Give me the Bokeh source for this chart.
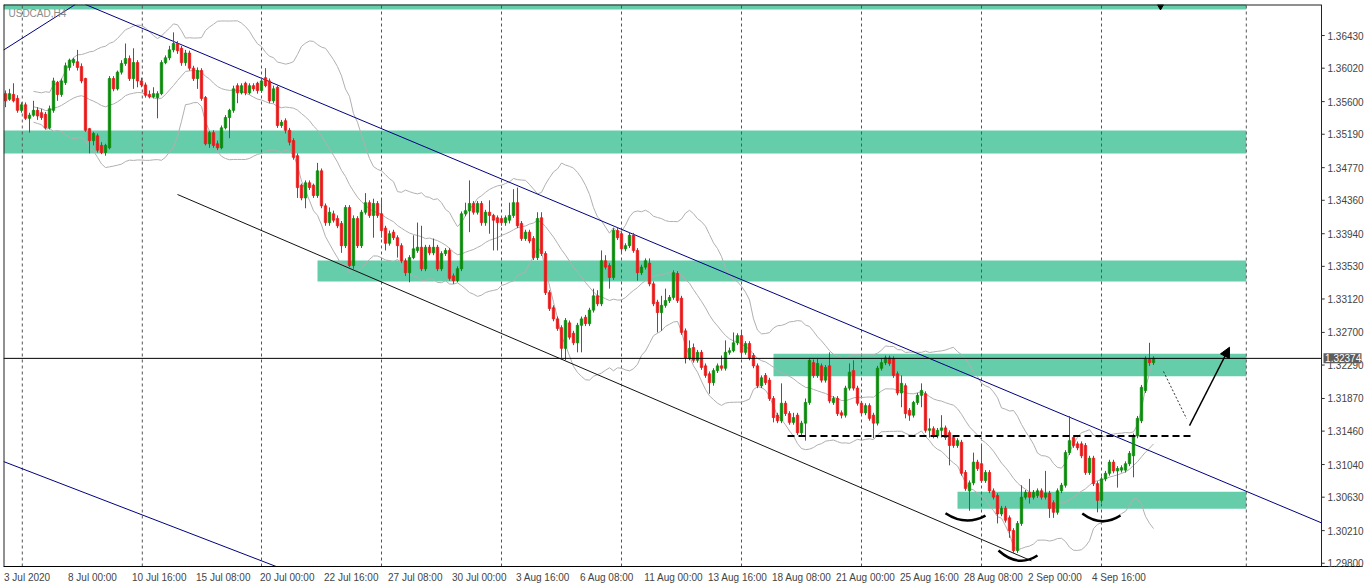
import numpy as np
import pandas as pd
from bokeh.plotting import figure
from bokeh.models import FixedTicker, PrintfTickFormatter, Label, Arrow, NormalHead
from bokeh.embed import file_html
from bokeh.resources import INLINE
from bokeh.core.properties import value

# ---------------- data (USDCAD H4) ----------------
opens = [
    1.3570, 1.3563, 1.3569, 1.3564, 1.3549, 1.3556, 1.3539, 1.3543, 1.3549, 1.3546,
    1.3544, 1.3527, 1.3549, 1.3584, 1.3569, 1.3584, 1.3603, 1.3609, 1.3610, 1.3604,
    1.3589, 1.3526, 1.3511, 1.3517, 1.3505, 1.3496, 1.3502, 1.3589, 1.3576, 1.3597,
    1.3608, 1.3614, 1.3589, 1.3609, 1.3586, 1.3581, 1.3569, 1.3566, 1.3565, 1.3570,
    1.3609, 1.3615, 1.3625, 1.3633, 1.3627, 1.3609, 1.3621, 1.3602, 1.3589, 1.3599,
    1.3565, 1.3507, 1.3521, 1.3507, 1.3502, 1.3527, 1.3540, 1.3549, 1.3580, 1.3571,
    1.3583, 1.3571, 1.3580, 1.3583, 1.3574, 1.3590, 1.3586, 1.3561, 1.3578, 1.3530,
    1.3536, 1.3524, 1.3511, 1.3492, 1.3455, 1.3439, 1.3458, 1.3455, 1.3442, 1.3473,
    1.3429, 1.3408, 1.3419, 1.3413, 1.3407, 1.3379, 1.3427, 1.3354, 1.3413, 1.3379,
    1.3421, 1.3433, 1.3417, 1.3432, 1.3419, 1.3401, 1.3382, 1.3396, 1.3389, 1.3379,
    1.3360, 1.3345, 1.3364, 1.3373, 1.3377, 1.3350, 1.3377, 1.3370, 1.3377, 1.3350,
    1.3369, 1.3373, 1.3341, 1.3335, 1.3350, 1.3419, 1.3423, 1.3432, 1.3421, 1.3432,
    1.3408, 1.3421, 1.3417, 1.3414, 1.3413, 1.3408, 1.3411, 1.3417, 1.3433, 1.3407,
    1.3388, 1.3396, 1.3388, 1.3364, 1.3414, 1.3369, 1.3320, 1.3301, 1.3287, 1.3276,
    1.3250, 1.3282, 1.3269, 1.3257, 1.3279, 1.3289, 1.3281, 1.3298, 1.3316, 1.3306,
    1.3360, 1.3354, 1.3339, 1.3398, 1.3394, 1.3375, 1.3379, 1.3392, 1.3373, 1.3345,
    1.3352, 1.3357, 1.3331, 1.3308, 1.3295, 1.3304, 1.3310, 1.3314, 1.3344, 1.3313,
    1.3272, 1.3238, 1.3251, 1.3235, 1.3245, 1.3228, 1.3218, 1.3207, 1.3222, 1.3228,
    1.3225, 1.3245, 1.3247, 1.3257, 1.3266, 1.3245, 1.3256, 1.3241, 1.3228, 1.3203,
    1.3216, 1.3210, 1.3187, 1.3166, 1.3159, 1.3181, 1.3168, 1.3157, 1.3166, 1.3144,
    1.3156, 1.3182, 1.3232, 1.3216, 1.3228, 1.3210, 1.3228, 1.3182, 1.3187, 1.3169,
    1.3166, 1.3200, 1.3222, 1.3200, 1.3181, 1.3169, 1.3178, 1.3166, 1.3156, 1.3225,
    1.3232, 1.3238, 1.3237, 1.3218, 1.3194, 1.3203, 1.3172, 1.3166, 1.3182, 1.3191,
    1.3193, 1.3147, 1.3149, 1.3140, 1.3147, 1.3150, 1.3144, 1.3138, 1.3128, 1.3132,
    1.3094, 1.3071, 1.3081, 1.3107, 1.3105, 1.3084, 1.3094, 1.3071, 1.3065, 1.3042,
    1.3049, 1.3037, 1.3021, 1.2996, 1.3030, 1.3063, 1.3069, 1.3063, 1.3065, 1.3071,
    1.3063, 1.3068, 1.3056, 1.3044, 1.3071, 1.3078, 1.3119, 1.3138, 1.3130, 1.3130,
    1.3128, 1.3094, 1.3112, 1.3080, 1.3059, 1.3086, 1.3093, 1.3107, 1.3096, 1.3097,
    1.3097, 1.3105, 1.3115, 1.3140, 1.3159, 1.3197, 1.3236, 1.3232,
]
highs = [
    1.3574, 1.3576, 1.3583, 1.3568, 1.3559, 1.3559, 1.3546, 1.3561, 1.3553, 1.3551,
    1.3547, 1.3555, 1.3590, 1.3586, 1.3589, 1.3609, 1.3614, 1.3615, 1.3625, 1.3608,
    1.3590, 1.3527, 1.3522, 1.3520, 1.3509, 1.3507, 1.3592, 1.3592, 1.3599, 1.3612,
    1.3633, 1.3618, 1.3627, 1.3612, 1.3590, 1.3584, 1.3574, 1.3578, 1.3573, 1.3612,
    1.3618, 1.3630, 1.3647, 1.3636, 1.3630, 1.3625, 1.3624, 1.3605, 1.3603, 1.3602,
    1.3567, 1.3523, 1.3524, 1.3511, 1.3530, 1.3543, 1.3551, 1.3580, 1.3583, 1.3583,
    1.3585, 1.3583, 1.3583, 1.3585, 1.3590, 1.3602, 1.3589, 1.3580, 1.3580, 1.3537,
    1.3539, 1.3527, 1.3514, 1.3495, 1.3457, 1.3461, 1.3461, 1.3457, 1.3483, 1.3476,
    1.3432, 1.3427, 1.3423, 1.3417, 1.3410, 1.3430, 1.3430, 1.3417, 1.3416, 1.3424,
    1.3445, 1.3436, 1.3438, 1.3435, 1.3438, 1.3404, 1.3398, 1.3399, 1.3392, 1.3382,
    1.3363, 1.3367, 1.3392, 1.3408, 1.3404, 1.3380, 1.3380, 1.3388, 1.3380, 1.3372,
    1.3376, 1.3376, 1.3344, 1.3353, 1.3422, 1.3433, 1.3461, 1.3435, 1.3435, 1.3435,
    1.3424, 1.3436, 1.3419, 1.3417, 1.3416, 1.3417, 1.3433, 1.3450, 1.3452, 1.3410,
    1.3399, 1.3399, 1.3391, 1.3421, 1.3421, 1.3372, 1.3323, 1.3304, 1.3290, 1.3279,
    1.3288, 1.3285, 1.3272, 1.3282, 1.3290, 1.3292, 1.3301, 1.3325, 1.3323, 1.3373,
    1.3367, 1.3357, 1.3401, 1.3402, 1.3397, 1.3382, 1.3396, 1.3395, 1.3376, 1.3355,
    1.3363, 1.3363, 1.3334, 1.3311, 1.3316, 1.3325, 1.3317, 1.3348, 1.3347, 1.3316,
    1.3275, 1.3260, 1.3256, 1.3248, 1.3248, 1.3231, 1.3221, 1.3225, 1.3231, 1.3241,
    1.3260, 1.3251, 1.3270, 1.3269, 1.3272, 1.3259, 1.3259, 1.3244, 1.3231, 1.3216,
    1.3219, 1.3213, 1.3190, 1.3169, 1.3206, 1.3184, 1.3171, 1.3169, 1.3169, 1.3159,
    1.3187, 1.3238, 1.3236, 1.3237, 1.3231, 1.3229, 1.3245, 1.3190, 1.3190, 1.3172,
    1.3203, 1.3231, 1.3235, 1.3203, 1.3184, 1.3181, 1.3181, 1.3169, 1.3228, 1.3238,
    1.3241, 1.3241, 1.3240, 1.3221, 1.3216, 1.3206, 1.3175, 1.3184, 1.3194, 1.3206,
    1.3196, 1.3162, 1.3152, 1.3150, 1.3166, 1.3153, 1.3147, 1.3141, 1.3137, 1.3135,
    1.3097, 1.3084, 1.3119, 1.3110, 1.3128, 1.3097, 1.3097, 1.3074, 1.3068, 1.3052,
    1.3052, 1.3040, 1.3024, 1.3033, 1.3078, 1.3072, 1.3086, 1.3072, 1.3074, 1.3074,
    1.3096, 1.3071, 1.3059, 1.3074, 1.3081, 1.3122, 1.3165, 1.3141, 1.3133, 1.3133,
    1.3131, 1.3115, 1.3115, 1.3083, 1.3089, 1.3096, 1.3110, 1.3110, 1.3102, 1.3103,
    1.3108, 1.3121, 1.3143, 1.3165, 1.3204, 1.3240, 1.3257, 1.3240,
]
lows = [
    1.3553, 1.3561, 1.3559, 1.3546, 1.3546, 1.3537, 1.3521, 1.3541, 1.3537, 1.3537,
    1.3525, 1.3525, 1.3546, 1.3561, 1.3566, 1.3581, 1.3599, 1.3605, 1.3599, 1.3583,
    1.3522, 1.3495, 1.3505, 1.3496, 1.3494, 1.3492, 1.3500, 1.3573, 1.3574, 1.3594,
    1.3605, 1.3586, 1.3576, 1.3578, 1.3578, 1.3565, 1.3564, 1.3564, 1.3539, 1.3568,
    1.3607, 1.3612, 1.3622, 1.3620, 1.3605, 1.3605, 1.3599, 1.3586, 1.3576, 1.3561,
    1.3505, 1.3502, 1.3502, 1.3499, 1.3500, 1.3525, 1.3514, 1.3546, 1.3558, 1.3569,
    1.3568, 1.3569, 1.3573, 1.3570, 1.3571, 1.3578, 1.3558, 1.3558, 1.3527, 1.3527,
    1.3520, 1.3505, 1.3487, 1.3439, 1.3436, 1.3426, 1.3449, 1.3439, 1.3439, 1.3426,
    1.3404, 1.3404, 1.3408, 1.3401, 1.3370, 1.3376, 1.3352, 1.3350, 1.3376, 1.3376,
    1.3418, 1.3414, 1.3389, 1.3414, 1.3389, 1.3373, 1.3379, 1.3386, 1.3364, 1.3357,
    1.3341, 1.3333, 1.3362, 1.3370, 1.3347, 1.3347, 1.3367, 1.3367, 1.3347, 1.3347,
    1.3366, 1.3335, 1.3331, 1.3333, 1.3347, 1.3416, 1.3396, 1.3418, 1.3418, 1.3404,
    1.3404, 1.3394, 1.3373, 1.3373, 1.3404, 1.3404, 1.3407, 1.3414, 1.3401, 1.3385,
    1.3385, 1.3382, 1.3361, 1.3361, 1.3366, 1.3317, 1.3297, 1.3284, 1.3272, 1.3238,
    1.3235, 1.3261, 1.3254, 1.3245, 1.3245, 1.3278, 1.3278, 1.3295, 1.3303, 1.3303,
    1.3349, 1.3325, 1.3336, 1.3386, 1.3369, 1.3372, 1.3376, 1.3370, 1.3335, 1.3342,
    1.3349, 1.3328, 1.3303, 1.3270, 1.3272, 1.3301, 1.3307, 1.3311, 1.3307, 1.3267,
    1.3231, 1.3235, 1.3232, 1.3232, 1.3223, 1.3213, 1.3193, 1.3203, 1.3219, 1.3222,
    1.3222, 1.3242, 1.3245, 1.3254, 1.3238, 1.3242, 1.3235, 1.3225, 1.3200, 1.3200,
    1.3204, 1.3184, 1.3157, 1.3156, 1.3156, 1.3165, 1.3154, 1.3154, 1.3141, 1.3141,
    1.3134, 1.3179, 1.3213, 1.3213, 1.3207, 1.3207, 1.3181, 1.3179, 1.3165, 1.3162,
    1.3163, 1.3197, 1.3197, 1.3178, 1.3166, 1.3166, 1.3159, 1.3137, 1.3153, 1.3222,
    1.3229, 1.3228, 1.3213, 1.3191, 1.3176, 1.3162, 1.3159, 1.3163, 1.3179, 1.3176,
    1.3144, 1.3138, 1.3137, 1.3137, 1.3138, 1.3135, 1.3103, 1.3125, 1.3125, 1.3090,
    1.3071, 1.3046, 1.3078, 1.3096, 1.3081, 1.3081, 1.3068, 1.3060, 1.3030, 1.3039,
    1.3031, 1.3012, 1.2993, 1.2993, 1.3027, 1.3060, 1.3055, 1.3060, 1.3062, 1.3060,
    1.3060, 1.3037, 1.3037, 1.3041, 1.3068, 1.3075, 1.3116, 1.3125, 1.3122, 1.3112,
    1.3091, 1.3091, 1.3077, 1.3044, 1.3056, 1.3083, 1.3090, 1.3093, 1.3075, 1.3094,
    1.3094, 1.3102, 1.3088, 1.3137, 1.3156, 1.3194, 1.3228, 1.3229,
]
closes = [
    1.3561, 1.3570, 1.3561, 1.3549, 1.3556, 1.3539, 1.3543, 1.3549, 1.3542, 1.3540,
    1.3527, 1.3551, 1.3586, 1.3569, 1.3586, 1.3605, 1.3612, 1.3613, 1.3603, 1.3586,
    1.3524, 1.3511, 1.3520, 1.3499, 1.3496, 1.3505, 1.3589, 1.3576, 1.3597, 1.3608,
    1.3614, 1.3589, 1.3609, 1.3586, 1.3581, 1.3568, 1.3566, 1.3570, 1.3570, 1.3609,
    1.3615, 1.3625, 1.3633, 1.3624, 1.3609, 1.3621, 1.3602, 1.3589, 1.3599, 1.3564,
    1.3507, 1.3521, 1.3505, 1.3502, 1.3527, 1.3540, 1.3549, 1.3576, 1.3571, 1.3580,
    1.3571, 1.3580, 1.3576, 1.3574, 1.3586, 1.3580, 1.3561, 1.3576, 1.3530, 1.3534,
    1.3524, 1.3509, 1.3490, 1.3452, 1.3439, 1.3458, 1.3452, 1.3442, 1.3473, 1.3429,
    1.3408, 1.3421, 1.3411, 1.3404, 1.3379, 1.3427, 1.3354, 1.3413, 1.3379, 1.3421,
    1.3433, 1.3417, 1.3432, 1.3417, 1.3398, 1.3382, 1.3394, 1.3389, 1.3379, 1.3360,
    1.3345, 1.3364, 1.3375, 1.3377, 1.3350, 1.3377, 1.3370, 1.3377, 1.3350, 1.3369,
    1.3373, 1.3338, 1.3335, 1.3350, 1.3419, 1.3423, 1.3432, 1.3421, 1.3432, 1.3408,
    1.3421, 1.3417, 1.3411, 1.3408, 1.3408, 1.3414, 1.3417, 1.3433, 1.3404, 1.3388,
    1.3396, 1.3385, 1.3364, 1.3413, 1.3369, 1.3320, 1.3300, 1.3287, 1.3275, 1.3250,
    1.3285, 1.3264, 1.3257, 1.3279, 1.3287, 1.3281, 1.3298, 1.3316, 1.3306, 1.3360,
    1.3352, 1.3339, 1.3398, 1.3389, 1.3375, 1.3379, 1.3392, 1.3373, 1.3345, 1.3352,
    1.3360, 1.3331, 1.3306, 1.3295, 1.3304, 1.3310, 1.3314, 1.3345, 1.3310, 1.3270,
    1.3238, 1.3250, 1.3235, 1.3245, 1.3226, 1.3216, 1.3207, 1.3222, 1.3228, 1.3225,
    1.3245, 1.3247, 1.3257, 1.3266, 1.3245, 1.3256, 1.3238, 1.3228, 1.3203, 1.3213,
    1.3207, 1.3187, 1.3163, 1.3159, 1.3181, 1.3168, 1.3157, 1.3163, 1.3144, 1.3156,
    1.3182, 1.3235, 1.3216, 1.3231, 1.3210, 1.3226, 1.3184, 1.3187, 1.3168, 1.3166,
    1.3200, 1.3220, 1.3200, 1.3181, 1.3169, 1.3178, 1.3162, 1.3156, 1.3225, 1.3232,
    1.3238, 1.3231, 1.3216, 1.3194, 1.3206, 1.3168, 1.3166, 1.3182, 1.3191, 1.3197,
    1.3147, 1.3149, 1.3140, 1.3147, 1.3150, 1.3138, 1.3128, 1.3128, 1.3134, 1.3093,
    1.3074, 1.3081, 1.3107, 1.3099, 1.3084, 1.3094, 1.3071, 1.3063, 1.3042, 1.3049,
    1.3034, 1.3021, 1.2996, 1.3030, 1.3063, 1.3069, 1.3063, 1.3069, 1.3071, 1.3063,
    1.3068, 1.3049, 1.3044, 1.3071, 1.3078, 1.3119, 1.3134, 1.3128, 1.3125, 1.3115,
    1.3094, 1.3112, 1.3080, 1.3059, 1.3086, 1.3093, 1.3107, 1.3096, 1.3099, 1.3100,
    1.3105, 1.3118, 1.3140, 1.3162, 1.3201, 1.3237, 1.3232, 1.32374,
]

# time-axis labels (every 16th H4 bar)
date_labels = ["3 Jul 2020", "8 Jul 00:00", "10 Jul 16:00", "15 Jul 08:00", "20 Jul 00:00",
               "22 Jul 16:00", "27 Jul 08:00", "30 Jul 00:00", "3 Aug 16:00", "6 Aug 08:00",
               "11 Aug 00:00", "13 Aug 16:00", "18 Aug 08:00", "21 Aug 00:00", "25 Aug 16:00",
               "28 Aug 08:00", "2 Sep 00:00", "4 Sep 16:00"]
label_step = 16

# price-axis ticks
price_ticks = [1.29800, 1.30210, 1.30630, 1.31040, 1.31460, 1.31870, 1.32290, 1.32700,
               1.33120, 1.33530, 1.33940, 1.34360, 1.34770, 1.35190, 1.35600, 1.36020, 1.36430]

# support / resistance zones (bar index from .. to, price bottom .. top)
zone_left = [-0.5, -0.5, 78.0, 192.0, 238.0]
zone_right = [310.2, 310.2, 310.2, 310.2, 310.2]
zone_bottom = [1.36757, 1.34948, 1.33340, 1.32149, 1.30484]
zone_top = [1.36950, 1.35237, 1.33603, 1.32431, 1.30697]

# weekly separators (bar positions)
week_lines = [4.2, 34.2, 64.0, 94.0, 124.0, 154.0, 184.0, 214.0, 244.0, 274.0, 310.2]

# drawn trend lines: (bar, price) end points
chan_upper_x, chan_upper_y = [20.0, 329.0], [1.36820, 1.30307]
chan_topleft_x, chan_topleft_y = [-0.5, 17.45], [1.36247, 1.36820]
chan_botleft_x, chan_botleft_y = [-0.5, 70.0], [1.31078, 1.29714]
chan_lower_x, chan_lower_y = [43.0, 256.5], [1.34433, 1.29830]
neck_x, neck_y = [195.5, 296.4], [1.3140, 1.3140]
pull_x, pull_y = [289.5, 295.25], [1.32209, 1.31618]
arrow_from, arrow_to = (296.0, 1.31530), (306.0, 1.32514)
arc_x0 = [235.0, 248.25, 269.2]
arc_x1 = [245.0, 258.0, 278.75]
arc_y0 = [1.30428, 1.29960, 1.30425]
arc_y1 = [1.30399, 1.29897, 1.30399]
arc_cx = [240.0, 253.1, 274.0]
arc_cy = [1.30261, 1.29740, 1.30244]

# ---------------- figure ----------------
PXB = 4.0                     # pixels per bar
FW, FH = 1359, 562            # frame covers the chart and the price-scale strip
X0 = -0.5
X1 = X0 + FW / PXB
AX = 329.0                    # position of the price scale line (in bars)
Y0, Y1 = 1.29759, 1.36820
FONT = "Liberation Sans"
GREEN, RED = "#0b8a0b", "#e81919"
px_price = (Y1 - Y0) / FH     # price per pixel

p = figure(frame_width=FW, frame_height=FH, x_range=(X0, X1), y_range=(Y0, Y1),
           output_backend="svg", toolbar_location=None, y_axis_location="right",
           min_border_left=3, min_border_top=4, min_border_bottom=0, min_border_right=0)
p.xgrid.visible = False
p.ygrid.visible = False
p.outline_line_color = None
p.background_fill_color = "white"
p.border_fill_color = "white"

# zones
p.quad(left=zone_left, right=zone_right, bottom=zone_bottom, top=zone_top,
       fill_color="#66CDAA", line_color=None)

# week separators
p.segment(x0=week_lines, y0=[Y0] * len(week_lines), x1=week_lines, y1=[Y1] * len(week_lines),
          line_color="#555555", line_dash="3 3", line_width=1)

# Bollinger bands (20, 2) from the closes
s = pd.Series(closes)
mid = s.rolling(20, min_periods=8).mean()
sd = s.rolling(20, min_periods=8).std(ddof=0)
idx = np.arange(len(closes))
for band in (mid, mid + 2 * sd, mid - 2 * sd):
    p.line(idx, band.values, line_color="#b0b0b0", line_width=1)

# trend lines
p.line(chan_upper_x, chan_upper_y, line_color="#000080", line_width=1)
p.line(chan_topleft_x, chan_topleft_y, line_color="#000080", line_width=1)
p.line(chan_botleft_x, chan_botleft_y, line_color="#000080", line_width=1)
p.line(chan_lower_x, chan_lower_y, line_color="#111111", line_width=1)

# candles
o = np.array(opens); c = np.array(closes)
h = np.maximum(np.array(highs), np.maximum(o, c))
l = np.minimum(np.array(lows), np.minimum(o, c))
cols = [GREEN if cc >= oo else RED for oo, cc in zip(o, c)]
p.segment(x0=idx, y0=h, x1=idx, y1=l, line_color=cols, line_width=1)
p.vbar(x=idx, width=0.6, top=np.maximum(o, c), bottom=np.minimum(o, c),
       fill_color=cols, line_color=cols, line_width=0.8)

# neckline, arcs, arrows
p.line(neck_x, neck_y, line_color="black", line_width=2, line_dash="7 4")
p.quadratic(x0=arc_x0, y0=arc_y0, x1=arc_x1, y1=arc_y1, cx=arc_cx, cy=arc_cy,
            line_color="black", line_width=2.5)
p.line(pull_x, pull_y, line_color="#333333", line_width=1, line_dash="2 2")
p.add_layout(Arrow(end=NormalHead(size=10, fill_color="black", line_color="black"),
                   x_start=arrow_from[0], y_start=arrow_from[1],
                   x_end=arrow_to[0], y_end=arrow_to[1], line_width=1.5, line_color="black"))

# bid line and chart-shift marker
p.line([X0, AX], [closes[-1], closes[-1]], line_color="black", line_width=1)
p.scatter([288.75], [1.36795], marker="inverted_triangle", size=6, color="black")

# chart border and price-scale line with its tick marks
p.line([X0, AX], [Y1, Y1], line_color="#222222", line_width=2)
p.line([X0, X0], [Y0, Y1], line_color="#222222", line_width=2)
p.line([AX, AX], [Y0, Y1], line_color="#222222", line_width=1)
p.segment(x0=[AX] * len(price_ticks), y0=price_ticks, x1=[AX + 0.8] * len(price_ticks),
          y1=price_ticks, line_color="#333333", line_width=1)

# price box on the scale (drawn above the scale labels)
p.quad(left=[AX + 0.5], right=[X1 - 0.25], bottom=[closes[-1] - 5 * px_price],
       top=[closes[-1] + 5 * px_price], fill_color="#5c5c5c", line_color=None, level="overlay")
p.text(x=[AX + 0.9], y=[closes[-1]], text=["%.5f" % closes[-1]], text_font=value(FONT),
       text_font_size="10px", text_color="white", text_baseline="middle", text_align="left",
       level="overlay")

# symbol caption
p.add_layout(Label(x=X0, y=Y1, x_offset=5, y_offset=-3, text="USDCAD,H4", text_baseline="top",
                   text_font=FONT, text_font_size="10px", text_color="#8a8a8a"))

# right price axis: labels drawn back over the price-scale strip
p.yaxis.ticker = FixedTicker(ticks=price_ticks)
p.yaxis.formatter = PrintfTickFormatter(format="%.5f")
p.yaxis.major_tick_out = 0
p.yaxis.major_tick_in = 0
p.yaxis.minor_tick_line_color = None
p.yaxis.axis_line_color = None
p.yaxis.major_tick_line_color = None
p.yaxis.major_label_text_font = FONT
p.yaxis.major_label_text_font_size = "10px"
p.yaxis.major_label_text_color = "#444444"
p.yaxis.major_label_standoff = -int(round((X1 - AX) * PXB - 6))

# bottom time axis: labels start at their bar (left aligned like MT4)
cw = {" ": 0.278, ":": 0.278, "J": 0.5, "u": 0.556, "l": 0.222, "A": 0.667, "g": 0.556,
      "S": 0.667, "e": 0.556, "p": 0.556}
tick_pos, overrides = [], {}
for k, lab in enumerate(date_labels):
    w = sum(cw.get(ch, 0.556) for ch in lab) * 10
    pos = round(k * label_step + (w / 2 - 1.5) / PXB, 3)
    tick_pos.append(pos)
    overrides[pos] = lab
p.xaxis.ticker = FixedTicker(ticks=tick_pos)
p.xaxis.major_label_overrides = overrides
p.xaxis.major_tick_line_color = None
p.xaxis.minor_tick_line_color = None
p.xaxis.axis_line_color = "black"
p.xaxis.major_label_text_font = FONT
p.xaxis.major_label_text_font_size = "10px"
p.xaxis.major_label_text_color = "#444444"
p.xaxis.major_label_standoff = -1

open("out.html", "w").write(file_html(p, INLINE))
